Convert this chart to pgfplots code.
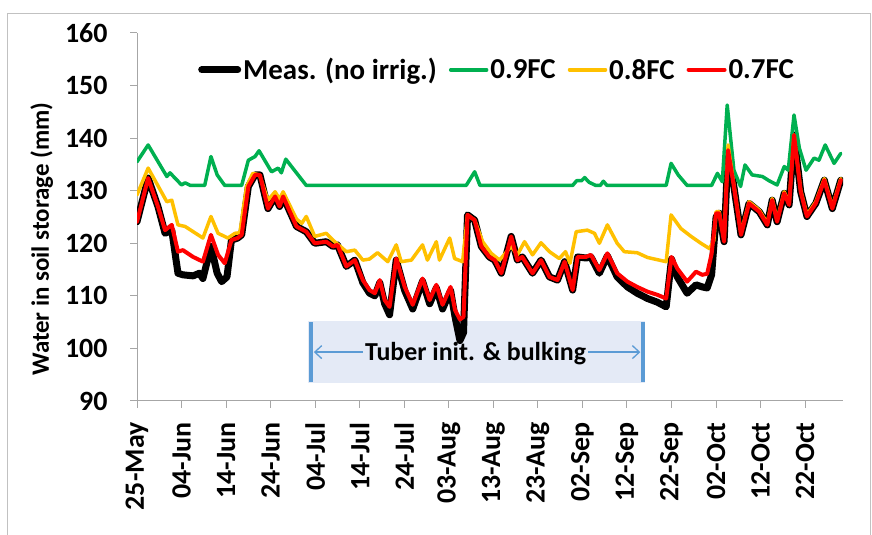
\documentclass[border=0pt]{standalone}
\usepackage{pgfplots}
\pgfplotsset{compat=1.18}
\usepackage{pgfplotstable}
\usepackage{fontspec}
\setmainfont{Carlito}
\usetikzlibrary{arrows.meta}
\definecolor{cgreen}{HTML}{00B050}
\definecolor{cyellow}{HTML}{FFC000}
\definecolor{cred}{HTML}{FF0000}
\definecolor{cbox}{HTML}{E4EAF6}
\definecolor{cblue}{HTML}{5B9BD5}
\definecolor{caxis}{HTML}{A6A6A6}

\pgfplotstableread{
d v
0 135.5
2.5 138.7
6.7 132.7
7.4 133.4
10 131.1
10.8 131.5
12 131
15.2 131
16.6 136.5
18 133
19.7 131
23.5 131
25 135.8
26.5 136.5
27.4 137.6
30.2 133.6
31.7 134.3
32.4 133.4
33.4 136
38 131
73.9 131
75.8 133.6
77 131
97.8 131
98.7 131.9
99.8 131.9
100.5 132.5
101.5 131.6
103 131
104 131
104.7 131.8
105.5 131
118.8 131
119.9 135.2
121.5 133
123.5 131
129 131
130.3 133.3
131.4 131.7
132.5 146.3
134 133.9
135.5 130.8
136.5 134.9
138.1 133
140.4 132.7
141.9 131.9
143.7 131.1
145.3 134.6
146.2 133.9
147.5 144.4
148.7 138.1
150.2 133.9
152 136.2
153.1 135.8
154.5 138.7
156.5 135.2
158 137.1
}\greendata

\pgfplotstableread{
d v
0 129.2
2.5 134.3
6.7 127.9
7.8 128.2
9.2 123.5
10.8 123.2
14.8 121
16.6 125.1
18.2 121.9
20.4 121
22 121.9
23.1 122
24.6 130.8
26 133.3
27.5 133
29.4 128.2
31 129.8
32 128.4
32.8 129.8
35.8 124.6
37 123.8
38 125.1
39.9 121.3
42.5 121.9
44 120.6
47 118.4
48.9 118.7
50.7 116.8
52.2 117
54 118.2
56.3 116.5
58.2 119.7
59.3 116.5
61.6 116.8
64.1 119.7
65.2 116.8
67.2 120.3
67.9 116.8
70.2 121
71.3 117.1
73.1 116.5
74.2 125.4
75.8 124.4
77.6 120.3
79.5 118.1
81.4 116.8
84 119.4
85.4 117.8
87 120.3
88.8 117.8
90.7 120.1
92.6 118.4
94.8 117.1
96.2 118.4
97.2 116.2
98.6 122.2
101.1 122.5
102.7 121.9
103.8 120
105.6 123.5
107.8 120
109.4 118.4
112.3 118.2
114.6 117.3
118.8 116.5
119.9 125.4
122.1 122.8
124.4 121.3
126.6 120
128.5 119
129.5 120.5
130 126
130.7 126
131.8 120.6
132.7 138.7
134 131.1
135.6 121.9
137.4 127.9
139.7 126.3
141.5 123.8
142.6 128.5
143.7 124.4
145.3 129.8
146.4 127.6
147.5 140.6
149 130.1
150.4 125.4
152.4 127.9
154.3 132.3
156.1 126.9
158 132.3
}\yellowdata

\pgfplotstableread{
d v
0 124.1
2.5 132.4
4.7 127
6.3 122.5
7.8 123.5
9.2 118.4
10.3 118.7
12.6 117.4
14.8 116.5
16.6 121.6
18.2 117.8
19.7 116.2
21.2 120.6
22.6 121
23.5 121.6
25 130.8
26.5 133
27.6 133
29.4 126.6
31 128.9
32 127
32.8 128.9
35.8 123.2
38 122.2
39.9 120
42.5 120.3
44 119.4
45 119.7
47 115.6
48.9 116.8
50.7 113
52.2 111.1
53.4 110.5
54.5 113
55.6 109.2
56.7 107.9
58.2 117.1
60.1 111.7
61.9 108.3
64.1 113.3
65.7 109.2
67.2 112.1
68.6 108.3
70.4 111.7
71.4 107.3
72.5 105.5
73.3 106
74.2 125.4
75.8 124.4
77.3 119.4
79.1 117.4
80.3 116.8
81.8 114.3
84 121.3
85.4 116.8
86.5 117.4
88.8 114.3
90.7 116.8
92.6 113.6
94.4 113
96 116.5
97.8 111.1
98.9 117.4
100.8 117.4
101.9 117.8
103.8 114.9
105.6 118.1
107.8 114.3
110.1 112.7
112.3 111.7
114.6 110.8
116.8 110.2
118.8 109.5
120 117.4
121.3 115.2
123.5 112.7
125.5 114.6
126.9 114
128 114.2
129 118
130 125.7
130.7 125.7
131.8 120.3
132.7 137.7
134 130.8
135.6 121.6
137.4 127.6
139.7 126
141.5 123.5
142.6 128.2
143.7 124.1
145.3 129.5
146.4 127.3
147.5 140.6
149 129.8
150.4 125.1
152.4 127.6
154.3 132
156.1 126.6
158 132
}\reddata

\pgfplotstableread{
d v
0 124.1
2.5 132.4
4.7 127
6.3 121.9
7.8 122.5
9.2 114.3
10.3 114
12.6 113.8
14 114.3
14.8 113.3
16.6 119.4
18 114.3
19 112.7
20.2 113.6
21.2 120.6
22.6 121
23.5 121.6
25 130.8
26.5 133
27.6 133
29.4 126.6
31 128.9
32 127
32.8 128.9
35.8 123.2
38 122.2
39.9 120
42.5 120.3
44 119.4
45 119.7
47 115.6
48.9 116.8
50.7 112.5
52.2 110.5
53.4 110
54.5 112.5
55.6 108.5
56.7 106.4
58.2 116.8
60.1 111
61.9 107.5
64.1 112.8
65.7 108.5
67.2 111.5
68.6 107.5
70.4 111
71.4 106
72.5 101.5
73.3 103
74.2 125.4
75.8 124.4
77.3 119.4
79.1 117.4
80.3 116.8
81.8 114.3
84 121.3
85.4 116.8
86.5 117.4
88.8 114.3
90.7 116.8
92.6 113.6
94.4 113
96 116.5
97.8 111.1
98.9 117.4
100.8 117.2
101.9 117.4
103.8 114.3
105.6 117.6
107.8 113.6
110.1 111.7
112.3 110.5
114.6 109.5
116.8 108.8
118.8 107.9
120 117
121.3 113.6
123.5 110.5
125.5 112.1
126.9 111.7
128 111.5
129 114
130 125
130.7 125.7
131.8 120.3
132.7 137.7
134 130.8
135.6 121.6
137.4 127.6
139.7 126
141.5 123.5
142.6 128.2
143.7 124.1
145.3 129.5
146.4 127.3
147.5 140.6
149 129.8
150.4 125.1
152.4 127.6
154.3 132
156.1 126.6
158 132
}\blackdata

\begin{document}
\begin{tikzpicture}[x=1bp,y=1bp]
\useasboundingbox (0,0) rectangle (872,535);
\draw[caxis!70, line width=1bp] (7,-2) -- (7,521.5) -- (870.5,521.5) -- (870.5,-2);
\begin{axis}[
  at={(137bp,134bp)}, anchor=south west,
  width=706bp, height=368bp, scale only axis,
  xmin=0, xmax=158.5, ymin=90, ymax=160,
  axis x line*=bottom, axis y line*=left,
  axis line style={caxis, line width=1bp},
  xtick={0,10,...,150},
  xticklabels={25-May,04-Jun,14-Jun,24-Jun,04-Jul,14-Jul,24-Jul,03-Aug,13-Aug,23-Aug,02-Sep,12-Sep,22-Sep,02-Oct,12-Oct,22-Oct},
  ytick={90,100,...,160},
  tick style={caxis, line width=1bp},
  tick align=outside, major tick length=7bp,
  /pgf/number format/assume math mode=true,
  xticklabel style={yshift=-11bp, rotate=90, anchor=east, font=\fontsize{28}{28}\selectfont\bfseries},
  yticklabel style={xshift=-19bp, font=\fontsize{28}{28}\selectfont\bfseries},
  ylabel={Water in soil storage (mm)},
  ylabel style={at={(axis description cs:-0.135,0.44)}, anchor=center, font=\fontsize{25}{25}\selectfont\bfseries},
  legend style={at={(axis description cs:0.51,0.9)}, anchor=center, draw=none, fill=none,
    font=\fontsize{29}{29}\selectfont\bfseries, inner sep=0pt,
    /tikz/every even column/.append style={column sep=10bp}},
  legend columns=4,
  legend cell align=left,
  legend image code/.code={\draw[#1] (0bp,0bp) -- (36bp,0bp);},
  every axis plot/.append style={line join=round, line cap=round},
]
\fill[cbox] (axis cs:38.4,93.4) rectangle (axis cs:114.1,105.2);
\draw[cblue, line width=4bp] (axis cs:39.1,93.6) -- (axis cs:39.1,105);
\draw[cblue, line width=4bp] (axis cs:113.6,93.6) -- (axis cs:113.6,105);
\node[font=\fontsize{26}{26}\selectfont\bfseries, inner sep=2bp] (T) at (axis cs:76,99) {Tuber init. \& bulking};
\draw[cblue, line width=1.3bp, -{Straight Barb[length=7bp,width=13bp]}] (T.west |- {axis cs:0,99.3}) -- (axis cs:39.7,99.3);
\draw[cblue, line width=1.3bp, -{Straight Barb[length=7bp,width=13bp]}] (T.east |- {axis cs:0,99.3}) -- (axis cs:113.0,99.3);

\addplot[black, line width=7bp] table[x=d,y=v] {\blackdata};
\addlegendentry{Meas. (no irrig.)}
\addplot[cgreen, line width=3.5bp] table[x=d,y=v] {\greendata};
\addlegendentry{0.9FC}
\addplot[cyellow, line width=3.5bp] table[x=d,y=v] {\yellowdata};
\addlegendentry{0.8FC}
\addplot[cred, line width=4bp] table[x=d,y=v] {\reddata};
\addlegendentry{0.7FC}
\end{axis}
\end{tikzpicture}
\end{document}
